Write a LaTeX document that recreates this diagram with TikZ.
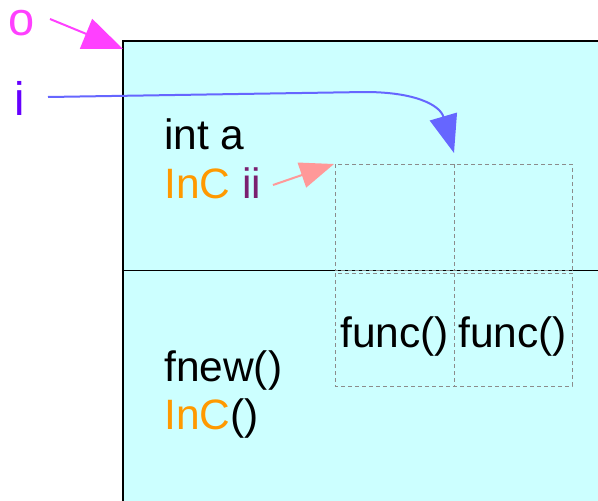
\documentclass[tikz,border=0pt]{standalone}
\usepackage{fontspec}
\setmainfont{Liberation Sans}
\usetikzlibrary{arrows.meta}
\definecolor{boxcyan}{HTML}{CCFFFF}
\definecolor{omag}{HTML}{FF40FF}
\definecolor{ipurple}{HTML}{6600FF}
\definecolor{arrblue}{HTML}{6666FF}
\definecolor{arrpink}{HTML}{FF9999}
\definecolor{incorange}{HTML}{FF9900}
\definecolor{iipurple}{HTML}{7B2070}
\tikzset{
  lbl/.style={anchor=base west, inner sep=0pt, font=\fontsize{42.5}{50}\selectfont},
  biglbl/.style={anchor=base west, inner sep=0pt, font=\fontsize{47}{56}\selectfont},
  grid/.style={draw=gray!90, dashed, dash pattern=on 4pt off 3pt, line width=0.9pt},
}
\begin{document}
\begin{tikzpicture}[x=1pt,y=-1pt]
\useasboundingbox (0,0) rectangle (598,501);
% main box
\fill[boxcyan] (123,41) rectangle (600,503);
\draw[line width=1.5pt] (123,503) -- (123,41) -- (600,41);
\draw[line width=1pt] (123,270) -- (600,270);
% dashed grid
\draw[grid] (335,164) rectangle (572,270);
\draw[grid] (335,273) rectangle (572,386);
\draw[grid] (454,164) -- (454,270);
\draw[grid] (454,273) -- (454,386);
% texts
\node[biglbl, text=omag, text height=26pt] (o) at (8,35) {o};
\node[biglbl, text=ipurple] (i) at (14,115) {i};
\node[lbl] (inta) at (164,149) {int a};
\node[lbl] (incii) at (164,198) {\textcolor{incorange}{InC} \textcolor{iipurple}{ii}};
\node[lbl] (fnew) at (164,381) {fnew()};
\node[lbl] (incc) at (164,429) {\textcolor{incorange}{InC}()};
\node[lbl] (f1) at (340,347) {func()};
\node[lbl] (f2) at (458,347) {func()};
% arrows
\coordinate (ostart) at (50,19);
\coordinate (oend) at (123,49);
\coordinate (istart) at (48,97);
\coordinate (iend) at (454,153);
\coordinate (pstart) at (273,185);
\coordinate (pend) at (334,164);
\draw[omag, line width=2pt, -{Triangle[length=40pt,width=32pt]}] (ostart) -- (oend);
\draw[arrblue, line width=2pt, -{Triangle[length=38pt,width=28pt]}] (istart) -- (365,92) .. controls (415,92) and (440,105) .. (iend);
\draw[arrpink, line width=2pt, -{Triangle[length=34pt,width=26pt]}] (pstart) -- (pend);
\end{tikzpicture}
\end{document}
